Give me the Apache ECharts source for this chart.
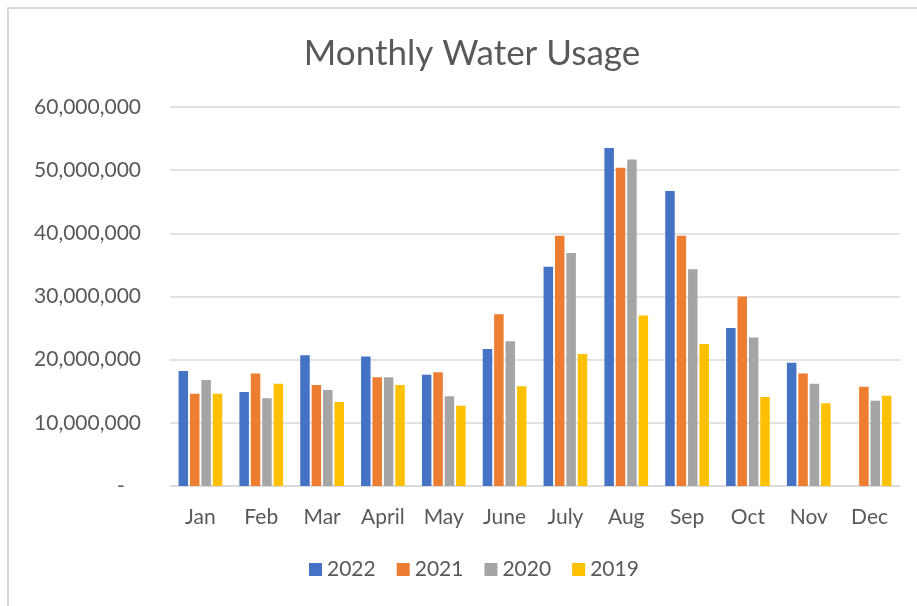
<!DOCTYPE html>
<html>
<head>
<meta charset="utf-8">
<script src="https://cdn.jsdelivr.net/npm/echarts@6/dist/echarts.min.js"></script>
<style>
  html, body { margin: 0; padding: 0; background: #fff; }
  #chart { width: 917px; height: 606px; }
</style>
</head>
<body>
<div id="chart"></div>
<script>
// months on the x axis
var months = ['Jan', 'Feb', 'Mar', 'April', 'May', 'June', 'July', 'Aug', 'Sep', 'Oct', 'Nov', 'Dec'];
// usage per year
var y2022 = [18200000, 14900000, 20700000, 20500000, 17600000, 21700000, 34700000, 53500000, 46700000, 25000000, 19500000, null];
var y2021 = [14600000, 17800000, 16000000, 17200000, 18000000, 27200000, 39600000, 50400000, 39600000, 30000000, 17800000, 15700000];
var y2020 = [16800000, 13900000, 15200000, 17200000, 14200000, 22900000, 36900000, 51700000, 34300000, 23500000, 16200000, 13500000];
var y2019 = [14600000, 16200000, 13300000, 16000000, 12700000, 15800000, 20900000, 27000000, 22500000, 14100000, 13100000, 14300000];
var yearNames = ['2022', '2021', '2020', '2019'];
var colors = ['#4472C4', '#ED7D31', '#A5A5A5', '#FFC000'];

var font = 'Lato, "Open Sans", sans-serif';
var textColor = '#595959';

function makeBar(name, data, color) {
    return {
        name: name,
        type: 'bar',
        data: data,
        barWidth: 9.5,
        barGap: '20%',
        itemStyle: { color: color },
        emphasis: { disabled: true }
    };
}

var myChart = echarts.init(document.getElementById('chart'), null, { renderer: 'canvas' });
myChart.setOption({
    animation: false,
    color: colors,
    title: {
        text: 'Monthly Water Usage',
        left: 467,
        textAlign: 'center',
        top: 31,
        textStyle: { fontFamily: font, fontSize: 35, fontWeight: 'normal', color: textColor }
    },
    graphic: [{
        type: 'rect',
        shape: { x: 8, y: 8, width: 1200, height: 1200 },
        style: { fill: 'none', stroke: '#d9d9d9', lineWidth: 2 },
        silent: true
    }],
    legend: {
        data: yearNames,
        left: 309,
        top: 559,
        padding: 0,
        icon: 'rect',
        itemWidth: 13,
        itemHeight: 13,
        itemGap: 21,
        textStyle: { fontFamily: font, fontSize: 21, color: textColor }
    },
    grid: { left: 170, right: 17, top: 107, bottom: 120, containLabel: false },
    xAxis: {
        type: 'category',
        data: months,
        axisLine: { lineStyle: { color: '#d9d9d9', width: 1.5 } },
        axisTick: { show: false },
        axisLabel: { fontFamily: font, fontSize: 21, color: textColor, margin: 21 }
    },
    yAxis: {
        type: 'value',
        min: 0,
        max: 60000000,
        interval: 10000000,
        axisLine: { show: false },
        axisTick: { show: false },
        splitLine: { lineStyle: { color: '#d9d9d9', width: 1.5 } },
        axisLabel: {
            fontFamily: font,
            fontSize: 21,
            color: textColor,
            margin: 29,
            formatter: function (v) {
                return v === 0 ? '-   ' : v.toLocaleString('en-US');
            }
        }
    },
    series: [
        makeBar(yearNames[0], y2022, colors[0]),
        makeBar(yearNames[1], y2021, colors[1]),
        makeBar(yearNames[2], y2020, colors[2]),
        makeBar(yearNames[3], y2019, colors[3])
    ]
});
</script>
</body>
</html>
